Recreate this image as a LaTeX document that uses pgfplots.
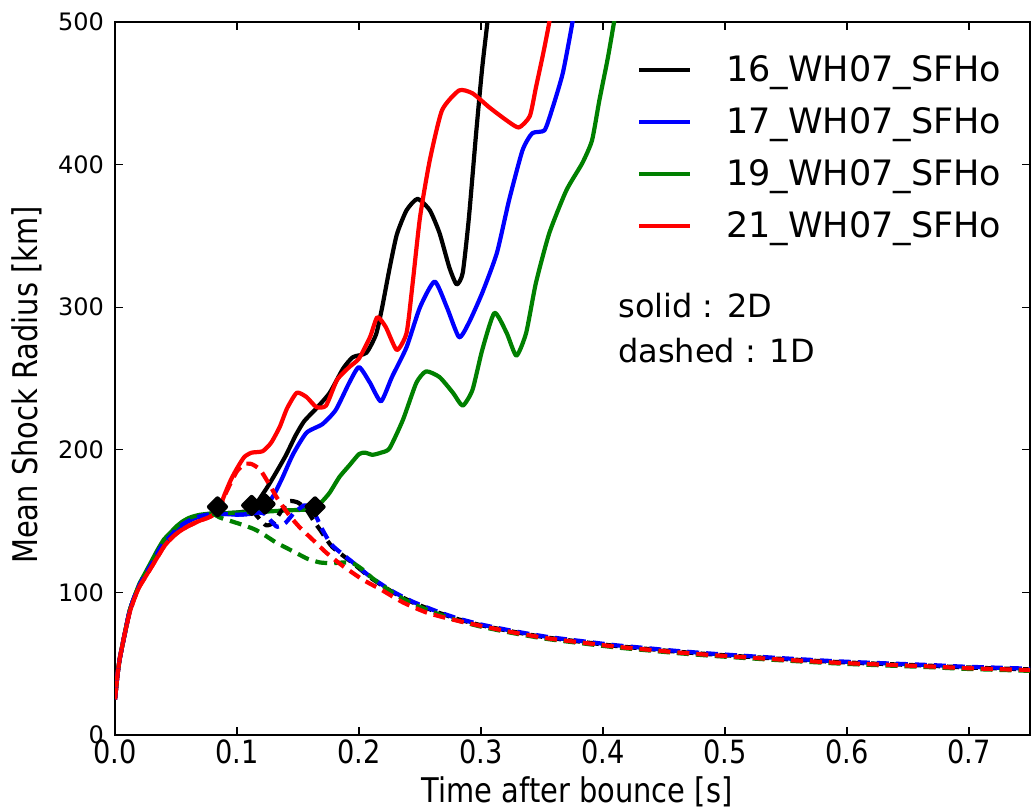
\documentclass[border=0pt]{standalone}
\usepackage{fontspec}
\setmainfont{DejaVu Sans}
\newfontfamily\condfont[FakeStretch=0.85]{DejaVu Sans}
\usepackage{pgfplots}
\pgfplotsset{compat=1.18}
\definecolor{mplblue}{rgb}{0,0,1}
\definecolor{mplgreen}{rgb}{0,0.5,0}
\definecolor{mplred}{rgb}{1,0,0}
\begin{document}
\begin{tikzpicture}
\begin{axis}[
  name=ax,
  scale only axis,
  width=457.5pt, height=356.5pt,
  xmin=0, xmax=0.75, ymin=0, ymax=500,
  xtick={0,0.1,0.2,0.3,0.4,0.5,0.6,0.7},
  xticklabels={0.0,0.1,0.2,0.3,0.4,0.5,0.6,0.7},
  ytick={0,100,200,300,400,500},
  xtick pos=both, ytick pos=both, tick align=inside,
  major tick length=4pt,
  every tick/.style={black, line width=0.6pt},
  axis line style={line width=1pt, black},
  /pgf/number format/assume math mode=true,
  xticklabel style={font=\condfont\fontsize{16}{19}\selectfont, yshift=1pt},
  yticklabel style={font=\fontsize{12}{14}\selectfont, xshift=-2pt},
  xlabel={Time after bounce [s]},
  ylabel={Mean Shock Radius [km]},
  xlabel style={font=\condfont\fontsize{17}{20}\selectfont, at={(axis description cs:0.505,-0.094)}, anchor=base},
  ylabel style={font=\condfont\fontsize{17}{20}\selectfont, at={(axis description cs:-0.0852,0.491)}, anchor=base},
  legend style={draw=none, fill=none, at={(axis description cs:0.98,0.965)}, anchor=north east,
    font=\fontsize{17.5}{21}\selectfont, row sep=7.5pt, cells={anchor=west},
    /tikz/every odd column/.append style={column sep=15pt}},
  legend image code/.code={\draw[#1,line width=2pt,solid] (0pt,0pt) -- (25.5pt,0pt);},
  every axis plot/.append style={line width=2.1pt, line join=round},
]
% ---------- 2D (solid) ----------
\addplot[black, smooth, tension=0.35] coordinates {
(0,25) (0.002,42) (0.004,54) (0.008,71) (0.012,87) (0.016,97) (0.02,105) (0.025,113) (0.03,120)
(0.035,128) (0.04,135) (0.045,139) (0.05,144) (0.055,147.5) (0.06,150) (0.065,152) (0.07,153.5)
(0.075,154.5) (0.08,155) (0.09,155.5) (0.1,156) (0.108,157) (0.113,159) (0.118,165) (0.125,174)
(0.132,184) (0.14,196) (0.148,210) (0.155,220) (0.165,229) (0.176,240) (0.187,257) (0.195,265)
(0.206,268) (0.214,281) (0.219,300) (0.225,327) (0.231,351) (0.239,368) (0.248,376) (0.258,368)
(0.266,352) (0.274,328) (0.28,316) (0.285,324) (0.29,362) (0.296,422) (0.301,468) (0.306,505) (0.308,520)};
\addlegendentry{16\_WH07\_SFHo}
\addplot[mplblue, smooth, tension=0.35] coordinates {
(0,25) (0.002,42) (0.004,54) (0.008,71) (0.012,87) (0.016,97) (0.02,105) (0.025,113) (0.03,120)
(0.035,128) (0.04,135) (0.045,139) (0.05,144) (0.055,147.5) (0.06,150) (0.065,152) (0.07,153.5)
(0.075,154.5) (0.08,155) (0.09,155) (0.1,154.5) (0.11,155) (0.118,156.5) (0.124,161) (0.13,168)
(0.137,180) (0.146,197) (0.157,212) (0.17,218) (0.181,228) (0.192,247) (0.2,258) (0.209,247)
(0.218,234) (0.227,251) (0.239,272) (0.25,300) (0.262,318) (0.272,300) (0.282,279) (0.29,289)
(0.301,310) (0.313,338) (0.323,375) (0.334,410) (0.342,422) (0.352,424) (0.358,438) (0.367,464)
(0.375,500) (0.378,520)};
\addlegendentry{17\_WH07\_SFHo}
\addplot[mplgreen, smooth, tension=0.35] coordinates {
(0,25) (0.002,42) (0.004,54) (0.008,71) (0.012,87) (0.016,97) (0.02,106) (0.025,114) (0.03,122)
(0.035,130) (0.04,137) (0.045,141.5) (0.05,146) (0.055,149.5) (0.06,152) (0.065,153.5) (0.07,154.5)
(0.075,155) (0.08,155.5) (0.09,155.5) (0.1,156) (0.12,156.5) (0.14,157.5) (0.155,158) (0.163,159)
(0.17,164) (0.176,170) (0.184,181) (0.192,189) (0.2,197) (0.205,198) (0.211,196.5) (0.218,198)
(0.225,201) (0.236,221) (0.247,247) (0.255,255) (0.266,251) (0.277,240) (0.285,231) (0.293,242)
(0.301,270) (0.311,296) (0.321,282) (0.329,266) (0.337,282) (0.345,317) (0.356,352) (0.37,382)
(0.383,401) (0.391,417) (0.397,445) (0.404,475) (0.41,505) (0.412,520)};
\addlegendentry{19\_WH07\_SFHo}
\addplot[mplred, smooth, tension=0.35] coordinates {
(0,25) (0.002,42) (0.004,54) (0.008,71) (0.012,86) (0.016,96) (0.02,104) (0.025,111) (0.03,118)
(0.035,125) (0.04,132) (0.045,137) (0.05,141) (0.055,144) (0.06,146.5) (0.065,148.5) (0.07,150.5)
(0.075,152) (0.08,154) (0.085,158) (0.09,169) (0.095,179) (0.1,187) (0.106,195) (0.112,198)
(0.121,199) (0.128,205) (0.135,216) (0.141,229) (0.149,240) (0.157,237) (0.165,230) (0.173,231)
(0.182,249) (0.192,258) (0.2,264) (0.209,279) (0.215,293) (0.222,286) (0.231,270) (0.239,282)
(0.244,317) (0.25,363) (0.258,403) (0.268,438) (0.282,452) (0.293,450) (0.307,440) (0.321,431)
(0.331,426) (0.34,434) (0.345,454) (0.351,478) (0.356,500) (0.358,515)};
\addlegendentry{21\_WH07\_SFHo}
% ---------- 1D (dashed) ----------
\addplot[black, smooth, tension=0.35, dash pattern=on 6pt off 3.5pt, forget plot] coordinates {
(0.112,158) (0.118,152) (0.124,147) (0.13,149) (0.137,158) (0.143,164) (0.15,163) (0.157,158)
(0.163,150) (0.168,144) (0.178,132) (0.195,120.5) (0.21,110) (0.228,100) (0.244,93) (0.263,86.5)
(0.28,81.5) (0.3,77) (0.326,72.5) (0.353,68.5) (0.381,65.5) (0.41,62.5) (0.435,60.5) (0.46,58.5)
(0.49,56.5) (0.52,54.8) (0.544,53.5) (0.585,51.5) (0.61,50.5) (0.64,49.5) (0.67,48.5) (0.694,47.5)
(0.72,46.8) (0.75,46)};
\addplot[mplblue, smooth, tension=0.35, dash pattern=on 6pt off 3.5pt, forget plot] coordinates {
(0,25) (0.002,42) (0.004,54) (0.008,71) (0.012,87) (0.016,97) (0.02,105) (0.025,113) (0.03,120)
(0.035,128) (0.04,135) (0.045,139) (0.05,144) (0.055,147.5) (0.06,150) (0.065,152) (0.07,153.5)
(0.075,154.5) (0.08,155) (0.09,155) (0.1,154.5) (0.11,155) (0.118,156) (0.123,155) (0.128,150)
(0.133,146) (0.14,149) (0.147,156) (0.155,161) (0.16,160) (0.165,153) (0.17,144) (0.178,133)
(0.195,121) (0.21,110.5) (0.228,100.5) (0.244,93.5) (0.263,87) (0.28,82) (0.3,77.5) (0.326,73)
(0.353,69) (0.381,66) (0.41,63) (0.435,61) (0.46,59) (0.49,57) (0.52,55.3) (0.544,54)
(0.585,52) (0.61,51) (0.64,50) (0.67,49) (0.694,48) (0.72,47.3) (0.75,46.5)};
\addplot[mplgreen, smooth, tension=0.35, dash pattern=on 6pt off 3.5pt, forget plot] coordinates {
(0.08,155.5) (0.086,152.5) (0.095,150) (0.106,147) (0.115,144) (0.123,140) (0.132,135) (0.141,131)
(0.15,127) (0.158,123.5) (0.168,121) (0.178,120.5) (0.188,121) (0.196,120) (0.203,116) (0.211,110)
(0.228,99.5) (0.244,92) (0.263,85.5) (0.28,80.5) (0.3,76) (0.326,71.5) (0.353,67.5) (0.381,64.5)
(0.41,61.5) (0.435,59.5) (0.46,57.5) (0.49,55.5) (0.52,53.8) (0.544,52.5) (0.585,50.5) (0.61,49.5)
(0.64,48.5) (0.67,47.5) (0.694,46.5) (0.72,45.8) (0.75,45)};
\addplot[mplred, smooth, tension=0.35, dash pattern=on 6pt off 3.5pt, forget plot] coordinates {
(0,25) (0.002,42) (0.004,54) (0.008,71) (0.012,86) (0.016,96) (0.02,104) (0.025,111) (0.03,118)
(0.035,125) (0.04,132) (0.045,137) (0.05,141) (0.055,144) (0.06,146.5) (0.065,148.5) (0.07,150.5)
(0.075,152) (0.08,154) (0.085,158) (0.09,168) (0.095,177) (0.1,185) (0.106,190) (0.112,190)
(0.119,186) (0.127,175) (0.133,166) (0.142,155) (0.151,146) (0.162,137) (0.173,128) (0.186,119)
(0.203,109) (0.218,102) (0.236,93) (0.255,86) (0.274,81.5) (0.3,76.5) (0.326,72) (0.353,68)
(0.381,65) (0.41,62) (0.435,60) (0.46,58) (0.49,56) (0.52,54.3) (0.544,53) (0.585,51) (0.61,50)
(0.64,49) (0.67,48) (0.694,47) (0.72,46.3) (0.75,45.5)};
% ---------- transition markers ----------
\addplot[only marks, mark=square*, mark size=3pt, mark options={rotate=45, black, solid}, forget plot]
coordinates {(0.084,160) (0.112,161) (0.123,162) (0.164,160)};
\node[anchor=base west, font=\fontsize{16}{19}\selectfont, inner sep=0pt] at (rel axis cs:0.5497,0.586) {solid : 2D};
\node[anchor=base west, font=\fontsize{16}{19}\selectfont, inner sep=0pt] at (rel axis cs:0.5497,0.523) {dashed : 1D};
\end{axis}
\pgfresetboundingbox
\path ([xshift=-57.5pt,yshift=-37pt]ax.south west) rectangle ([xshift=1pt,yshift=11pt]ax.north east);
\end{tikzpicture}
\end{document}
